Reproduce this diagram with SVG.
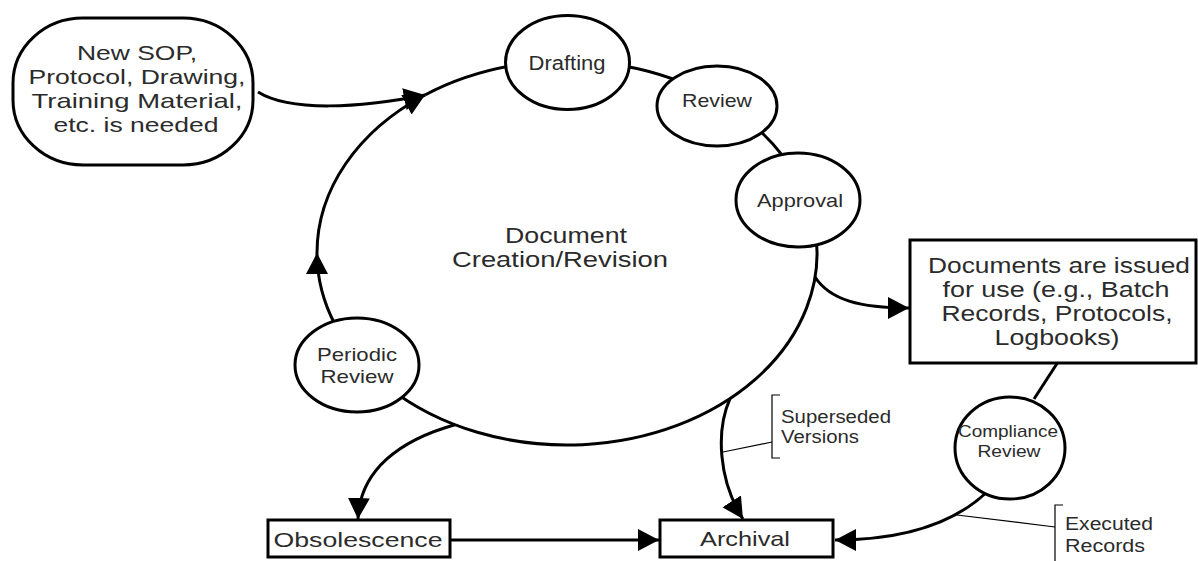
<svg xmlns="http://www.w3.org/2000/svg" width="1198" height="561" viewBox="0 0 1198 561">
<style>
  .ln{fill:none;stroke:#000;stroke-width:3}
  .thin{fill:none;stroke:#000;stroke-width:1.2}
  .nd{fill:#fff;stroke:#000;stroke-width:3}
  text{font-family:"Liberation Sans",Arial,sans-serif;fill:#2b2b2b;text-anchor:middle}
  .lab{text-anchor:start}
</style>
<defs>
  <marker id="ah" markerUnits="userSpaceOnUse" markerWidth="24" markerHeight="26" refX="21" refY="12" orient="auto">
    <path d="M0,1 L21,12 L0,23 Z" fill="#000"/>
  </marker>
</defs>
<rect width="1198" height="561" fill="#fff"/>
<g id="connectors">
  <path class="ln" d="M335,324.5 A250,192 0 0 1 317,253" marker-end="url(#ah)"/>
  <path class="ln" d="M317,253 A250,192 0 0 1 425,95" marker-end="url(#ah)"/>
  <path class="ln" d="M425,95 A250,192 0 1 1 335,324.5"/>
  <path class="ln" d="M258,92 C290,112 360,108 425,95" marker-end="url(#ah)"/>
  <path class="ln" d="M815,277 C830,300 860,308 909,308" marker-end="url(#ah)"/>
  <path class="ln" d="M455,424.7 C400,440 360,470 358,519" marker-end="url(#ah)"/>
  <path class="ln" d="M450,540 L659,540" marker-end="url(#ah)"/>
  <path class="ln" d="M730,398.6 C716,430 718,480 743,519" marker-end="url(#ah)"/>
  <path class="ln" d="M1058,362 L1034,399"/>
  <path class="ln" d="M987,492 C952,525 900,540 835,540" marker-end="url(#ah)"/>
  <path class="thin" d="M723,452 L772,442"/>
  <path class="thin" d="M780,395 H772 V458 H780"/>
  <path class="thin" d="M957,515 L1055,527"/>
  <path class="thin" d="M1063,505 H1055 V561"/>
</g>
<g id="start">
  <rect class="nd" x="13" y="18" width="240" height="147" rx="70" ry="65"/>
  <text font-size="21" x="137" y="60" textLength="120" lengthAdjust="spacingAndGlyphs">New SOP,</text>
  <text font-size="21" x="137" y="84" textLength="217" lengthAdjust="spacingAndGlyphs">Protocol, Drawing,</text>
  <text font-size="21" x="137" y="108" textLength="211" lengthAdjust="spacingAndGlyphs">Training Material,</text>
  <text font-size="21" x="136" y="132" textLength="165" lengthAdjust="spacingAndGlyphs">etc. is needed</text>
</g>
<g id="cycle-label">
  <text font-size="22" x="566" y="243" textLength="122" lengthAdjust="spacingAndGlyphs">Document</text>
  <text font-size="22" x="560" y="267" textLength="216" lengthAdjust="spacingAndGlyphs">Creation/Revision</text>
</g>
<g id="drafting">
  <ellipse class="nd" cx="567.5" cy="62.5" rx="62" ry="47"/>
  <text font-size="20" x="567" y="70" textLength="77" lengthAdjust="spacingAndGlyphs">Drafting</text>
</g>
<g id="review">
  <ellipse class="nd" cx="717" cy="106" rx="60" ry="40"/>
  <text font-size="19" x="717" y="107" textLength="70" lengthAdjust="spacingAndGlyphs">Review</text>
</g>
<g id="approval">
  <ellipse class="nd" cx="798" cy="200" rx="62" ry="47"/>
  <text font-size="19" x="800" y="207" textLength="86" lengthAdjust="spacingAndGlyphs">Approval</text>
</g>
<g id="issued">
  <rect class="nd" x="910" y="240" width="286" height="123"/>
  <text font-size="22" x="1059" y="273" textLength="262" lengthAdjust="spacingAndGlyphs">Documents are issued</text>
  <text font-size="22" x="1056" y="297" textLength="227" lengthAdjust="spacingAndGlyphs">for use (e.g., Batch</text>
  <text font-size="22" x="1057" y="321" textLength="231" lengthAdjust="spacingAndGlyphs">Records, Protocols,</text>
  <text font-size="22" x="1057" y="345" textLength="125" lengthAdjust="spacingAndGlyphs">Logbooks)</text>
</g>
<g id="periodic">
  <ellipse class="nd" cx="357" cy="365" rx="62" ry="47"/>
  <text font-size="19" x="357" y="361" textLength="80" lengthAdjust="spacingAndGlyphs">Periodic</text>
  <text font-size="19" x="357" y="383" textLength="73" lengthAdjust="spacingAndGlyphs">Review</text>
</g>
<g id="compliance">
  <ellipse class="nd" cx="1010" cy="448" rx="55" ry="51"/>
  <text font-size="17" x="1008" y="437" textLength="100" lengthAdjust="spacingAndGlyphs">Compliance</text>
  <text font-size="17" x="1009" y="457" textLength="63" lengthAdjust="spacingAndGlyphs">Review</text>
</g>
<g id="obsolescence">
  <rect class="nd" x="268" y="520" width="182" height="37"/>
  <text font-size="21" x="358" y="547" textLength="169" lengthAdjust="spacingAndGlyphs">Obsolescence</text>
</g>
<g id="archival">
  <rect class="nd" x="660" y="520" width="173" height="37"/>
  <text font-size="21" x="745" y="546" textLength="90" lengthAdjust="spacingAndGlyphs">Archival</text>
</g>
<g id="notes">
  <text class="lab" font-size="18" x="781" y="423" textLength="110" lengthAdjust="spacingAndGlyphs">Superseded</text>
  <text class="lab" font-size="18" x="781" y="443" textLength="78" lengthAdjust="spacingAndGlyphs">Versions</text>
  <text class="lab" font-size="18" x="1065" y="530" textLength="88" lengthAdjust="spacingAndGlyphs">Executed</text>
  <text class="lab" font-size="18" x="1065" y="552" textLength="80" lengthAdjust="spacingAndGlyphs">Records</text>
</g>
</svg>
